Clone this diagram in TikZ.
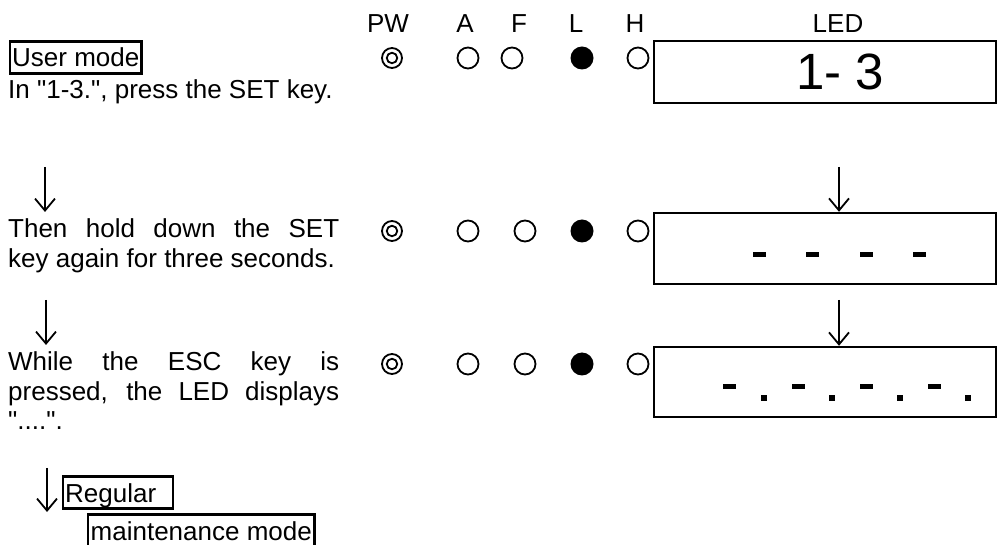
\documentclass[tikz,border=0pt]{standalone}
\usepackage{fontspec}
\setmainfont{Liberation Sans}[Ligatures=TeXOff]
\usetikzlibrary{arrows.meta}
\begin{document}
\begin{tikzpicture}[x=1pt,y=-1pt,
  txt/.style={anchor=base west,inner sep=0pt,font=\fontsize{26}{30}\selectfont},
  hdr/.style={anchor=base,inner sep=0pt,font=\fontsize{26}{30}\selectfont},
  boxed/.style={draw,line width=2.4pt,anchor=base west,inner xsep=2pt,inner ysep=0pt,text height=25.5pt,text depth=6.5pt,font=\fontsize{26}{30}\selectfont},
  ledbox/.style={draw,line width=2.4pt,minimum width=342pt,inner sep=0pt},
  ring/.style={circle,draw,line width=1.8pt,minimum size=21pt,inner sep=0pt},
  dot/.style={circle,fill=black,minimum size=23pt,inner sep=0pt},
  pw/.style={circle,draw,line width=1.8pt,minimum size=20pt,inner sep=0pt,
    append after command={node[circle,draw,line width=1.8pt,minimum size=10.5pt,inner sep=0pt] at (\tikzlastnode.center) {}}},
  arr/.style={line width=1.8pt,-{Straight Barb[length=12pt,width=20pt,line width=1.8pt]}},
  seg/.style={fill=black,draw=none,inner sep=0pt,minimum width=13pt,minimum height=5pt},
  pt/.style={fill=black,draw=none,inner sep=0pt,minimum size=6pt}]
\useasboundingbox (0,0) rectangle (997,545);

% headers
\node[hdr] (hPW) at (388,33) {PW};
\node[hdr] (hA) at (465,33) {A};
\node[hdr] (hF) at (519,33) {F};
\node[hdr] (hL) at (576,33) {L};
\node[hdr] (hH) at (635,33) {H};
\node[hdr] (hLED) at (838,33) {LED};

% row 1
\node[boxed] (um) at (9,67) {User mode};
\node[txt] (t1) at (8,99) {In "1-3.", press the SET key.};
\node[pw] (p1) at (392,58) {};
\node[ring] (a1) at (468,58) {};
\node[ring] (f1) at (512,58) {};
\node[dot] (l1) at (582,58) {};
\node[ring] (h1) at (638,58) {};
\node[ledbox,minimum height=62pt] (led1) at (825,72) {};
\node[anchor=base,inner sep=0pt,font=\fontsize{51}{60}\selectfont] (d1) at (840,90) {1- 3};

% arrows 1->2
\coordinate (s1) at (45,167);
\coordinate (e1) at (45,212);
\draw[arr] (s1) -- (e1);
\coordinate (s1r) at (839,167);
\node[ledbox,minimum height=71pt] (led2) at (825,248.5) {};
\draw[arr] (s1r) -- (s1r |- led2.north);

% row 2
\node[txt] (t2a) at (8,238) {\makebox[331pt][s]{Then hold down the SET}};
\node[txt] (t2b) at (8,268) {key again for three seconds.};
\node[pw] (p2) at (392,231) {};
\node[ring] (a2) at (468,231) {};
\node[ring] (f2) at (525,231) {};
\node[dot] (l2) at (582,231) {};
\node[ring] (h2) at (638,231) {};
\node[seg] (g21) at (759,255) {};
\node[seg] (g22) at (812,255) {};
\node[seg] (g23) at (866,255) {};
\node[seg] (g24) at (919,255) {};

% arrows 2->3
\coordinate (s2) at (46,300);
\coordinate (e2) at (46,345);
\draw[arr] (s2) -- (e2);
\coordinate (s2r) at (839,300);
\node[ledbox,minimum height=70pt] (led3) at (825,382) {};
\draw[arr] (s2r) -- (s2r |- led3.north);

% row 3
\node[txt] (t3a) at (8,371) {\makebox[331pt][s]{While the ESC key is}};
\node[txt] (t3b) at (8,401) {\makebox[331pt][s]{pressed, the LED displays}};
\node[txt] (t3c) at (8,430) {"....".};
\node[pw] (p3) at (392,364) {};
\node[ring] (a3) at (468,364) {};
\node[ring] (f3) at (525,364) {};
\node[dot] (l3) at (582,364) {};
\node[ring] (h3) at (638,364) {};
\node[seg] (g31) at (729,387) {};
\node[pt] (q31) at (764,398) {};
\node[seg] (g32) at (798,387) {};
\node[pt] (q32) at (832,398) {};
\node[seg] (g33) at (866,387) {};
\node[pt] (q33) at (900,398) {};
\node[seg] (g34) at (934,387) {};
\node[pt] (q34) at (968,398) {};

% bottom
\coordinate (s3) at (47,468);
\coordinate (e3) at (47,512);
\draw[arr] (s3) -- (e3);
\node[boxed] (reg) at (62,502) {\makebox[106pt][l]{Regular}};
\node[boxed,inner xsep=2.5pt] (mm) at (87,540) {maintenance mode};
\end{tikzpicture}
\end{document}
